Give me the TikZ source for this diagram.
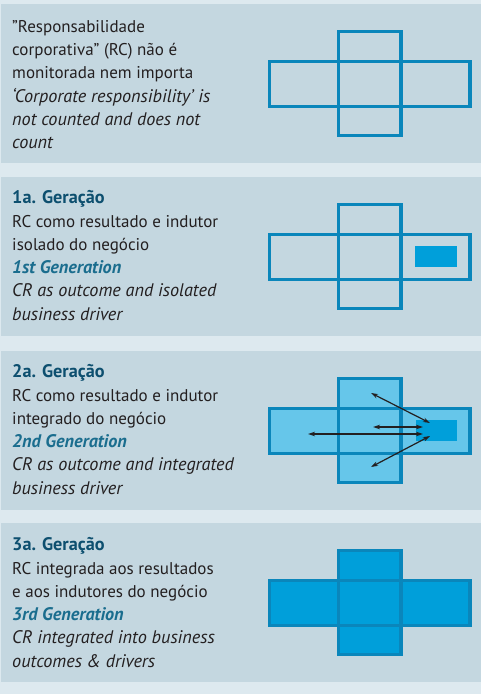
\documentclass[tikz,border=0pt]{standalone}
\usepackage{fontspec}
\setmainfont{PT Sans}
\usetikzlibrary{arrows.meta}
\definecolor{bgc}{HTML}{DDE9EF}
\definecolor{panelc}{HTML}{C4D7E0}
\definecolor{strokec}{HTML}{0A86BB}
\definecolor{lightc}{HTML}{66C6EA}
\definecolor{fullc}{HTML}{009FDA}
\definecolor{headc}{HTML}{0D4F6F}
\definecolor{subc}{HTML}{1A6D8E}
\definecolor{txtc}{HTML}{231F20}
\tikzset{
  panel/.style={fill=panelc, draw=none},
  crossline/.style={draw=strokec, line width=3.3pt},
  ptext/.style={anchor=north west, inner sep=0pt, align=left, text=txtc,
    font=\fontsize{17}{23.3}\selectfont},
  twoway/.style={draw=txtc, line width=1.2pt, {Stealth[length=7pt,width=4.5pt]}-{Stealth[length=7pt,width=4.5pt]}},
  marker/.style={fill=fullc, draw=none}
}
\newcommand{\firstln}{\vrule height 14pt depth 0pt width 0pt}
\newcommand{\hd}[1]{{\fontsize{18.2}{23.3}\selectfont\bfseries\color{headc}#1}}
\newcommand{\sh}[1]{{\fontsize{18.2}{23.3}\selectfont\bfseries\itshape\color{subc}#1}}
\newcommand{\en}[1]{{\fontsize{18.2}{23.3}\selectfont\itshape #1}}
\begin{document}
\begin{tikzpicture}[x=1pt,y=-1pt]
\useasboundingbox (0,0) rectangle (481,694);
\fill[bgc] (0,0) rectangle (481,694);
% panels
\foreach \t [count=\i] in {4,177,351,523} {
  \path[panel] (1,\t) rectangle (481,\t+159);
}
% panel 1 cross (empty)
\begin{scope}[yshift=-4pt]
  \draw[crossline] (269.3,57.7) rectangle (470,102.7);
  \draw[crossline] (338.3,27.7) rectangle (401,131.8);
\end{scope}
% panel 2 cross with marker
\begin{scope}[yshift=-177pt]
  \draw[crossline] (269.3,57.7) rectangle (470,102.7);
  \draw[crossline] (338.3,27.7) rectangle (401,131.8);
  \path[marker] (415,69) rectangle (457,90);
\end{scope}
% panel 3 cross light filled, marker, arrows
\begin{scope}[yshift=-351pt]
  \fill[lightc] (269.3,57.7) rectangle (470,102.7);
  \fill[lightc] (338.3,27.7) rectangle (401,131.8);
  \draw[crossline] (269.3,57.7) rectangle (470,102.7);
  \draw[crossline] (338.3,27.7) rectangle (401,131.8);
  \path[marker] (416,69) rectangle (457,90);
  \coordinate (a1s) at (371,42);  \coordinate (a1e) at (430,72);
  \coordinate (a2s) at (373,76);  \coordinate (a2e) at (423,76);
  \coordinate (a3s) at (308,83);  \coordinate (a3e) at (423,83);
  \coordinate (a4s) at (371,116); \coordinate (a4e) at (430,85);
  \draw[twoway] (a1s) -- (a1e);
  \draw[twoway] (a2s) -- (a2e);
  \draw[twoway] (a3s) -- (a3e);
  \draw[twoway] (a4s) -- (a4e);
\end{scope}
% panel 4 cross fully filled
\begin{scope}[yshift=-523pt]
  \fill[fullc] (269.3,57.7) rectangle (470,102.7);
  \fill[fullc] (338.3,27.7) rectangle (401,131.8);
  \draw[crossline] (269.3,57.7) rectangle (470,102.7);
  \draw[crossline] (338.3,27.7) rectangle (401,131.8);
\end{scope}
% texts
\node[ptext] (t1) at (12,4+28-14) {\firstln”Responsabilidade\\corporativa” (RC) não é\\monitorada nem importa\\\en{‘Corporate responsibility’ is}\\\en{not counted and does not}\\\en{count}};
\node[ptext] (t2) at (12,177+26.5-14) {\firstln\hd{1a. Geração}\\RC como resultado e indutor\\isolado do negócio\\\sh{1st Generation}\\\en{CR as outcome and isolated}\\\en{business driver}};
\node[ptext] (t3) at (12,351+26.5-14) {\firstln\hd{2a. Geração}\\RC como resultado e indutor\\integrado do negócio\\\sh{2nd Generation}\\\en{CR as outcome and integrated}\\\en{business driver}};
\node[ptext] (t4) at (12,523+27.5-14) {\firstln\hd{3a. Geração}\\RC integrada aos resultados\\e aos indutores do negócio\\\sh{3rd Generation}\\\en{CR integrated into business}\\\en{outcomes \& drivers}};
\end{tikzpicture}
\end{document}
